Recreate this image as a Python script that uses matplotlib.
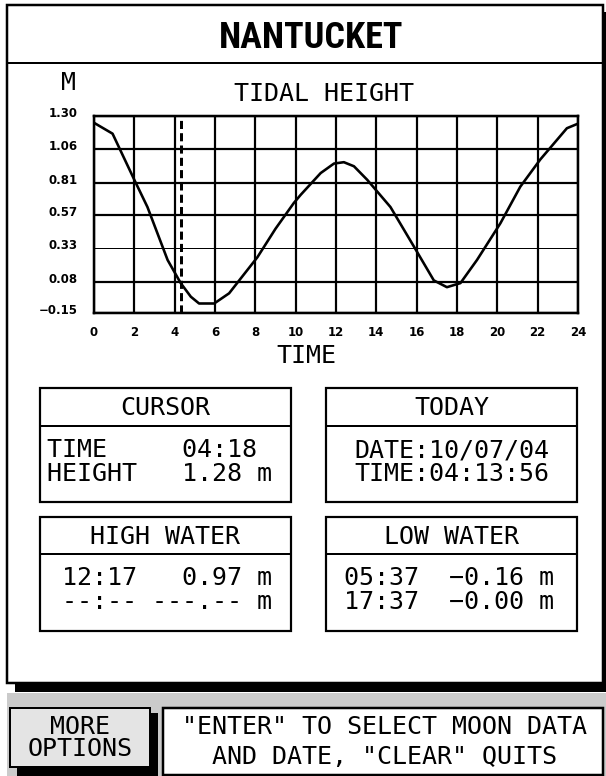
import matplotlib
matplotlib.use("Agg")
import matplotlib.pyplot as plt
from matplotlib.patches import Rectangle
from matplotlib.transforms import ScaledTranslation

# tide curve for the day (hours, metres)
hours = [0, 0.92, 2.0, 2.65, 3.65, 4.3, 4.8, 5.21, 5.6, 5.96, 6.7, 7.28, 8.1,
         9.0, 9.91, 10.25, 11.24, 11.9, 12.39, 12.89, 13.55, 14.7, 15.86,
         16.85, 17.5, 18.17, 18.99, 20.15, 21.14, 22.13, 23.45, 23.94]
heights = [1.25, 1.17, 0.83, 0.63, 0.24, 0.07, -0.03, -0.08, -0.08, -0.08,
           -0.005, 0.105, 0.26, 0.47, 0.66, 0.72, 0.88, 0.95, 0.96, 0.93,
           0.83, 0.63, 0.34, 0.09, 0.04, 0.07, 0.24, 0.51, 0.78, 0.98, 1.21,
           1.24]
y_ticks = [-0.15, 0.08, 0.33, 0.57, 0.81, 1.06, 1.30]
x_ticks = list(range(0, 25, 2))
cursor_hour = 4.3  # 04:18

station = "NANTUCKET"
cursor_rows = ["TIME     04:18", "HEIGHT   1.28 m"]
today_rows = ["DATE:10/07/04", "TIME:04:13:56"]
high_rows = ["12:17   0.97 m", "--:-- ---.-- m"]
low_rows = ["05:37  \u22120.16 m", "17:37  \u22120.00 m"]

W, H = 606, 776
PX = 0.72  # one pixel in points at dpi 100
MONO = "DejaVu Sans Mono"
NARROW = ["Roboto Condensed", "Archivo Narrow", "Liberation Sans Narrow",
          "DejaVu Sans"]
GRAY = "#cbcbcb"

fig = plt.figure(figsize=(W / 100, H / 100), dpi=100)
fig.patch.set_facecolor("white")

# screen layer in pixel coordinates, y pointing down
scr = fig.add_axes([0, 0, 1, 1])
scr.set_xlim(0, W)
scr.set_ylim(H, 0)
scr.axis("off")


def rect(x0, y0, x1, y1, fc="none", ec="none", lw=0, z=1):
    scr.add_patch(Rectangle((x0, y0), x1 - x0, y1 - y0, facecolor=fc,
                            edgecolor=ec, linewidth=lw * PX, zorder=z))


def txt(x, y, s, size=18, ha="center", **kw):
    scr.text(x, y, s, fontsize=size, family=MONO, ha=ha, va="center",
             color="black", **kw)


# main window with drop shadow
rect(7, 693, W, H, fc=GRAY)
rect(603, 12, W, 692, fc="black")
rect(15, 683, W, 692, fc="black")
rect(7, 5, 603, 683, fc="white", ec="black", lw=2.5, z=2)
scr.plot([7, 603], [63, 63], color="black", lw=2 * PX, zorder=3)
scr.text(311, 38, station, fontsize=26, fontweight="bold", family=NARROW,
         ha="center", va="center", zorder=3)

# plot labels
txt(68, 83, "M", zorder=3)
txt(324, 94, "TIDAL HEIGHT", zorder=3)
txt(306, 356, "TIME", zorder=3)


def info_box(x0, y0, x1, y1, head_y, title, rows, row_x=None):
    rect(x0, y0, x1, y1, fc="white", ec="black", lw=2.2, z=3)
    scr.plot([x0, x1], [head_y, head_y], color="black", lw=2 * PX, zorder=4)
    txt((x0 + x1) / 2, (y0 + head_y) / 2 + 1, title, zorder=4)
    ys = [head_y + 24, head_y + 48]
    for y, r in zip(ys, rows):
        if row_x is None:
            txt((x0 + x1) / 2, y, r, zorder=4)
        else:
            txt(row_x, y, r, ha="left", zorder=4)


info_box(40, 388, 291, 502, 426, "CURSOR", cursor_rows, row_x=47)
info_box(326, 388, 577, 502, 426, "TODAY", today_rows)
info_box(40, 517, 291, 631, 554, "HIGH WATER", high_rows, row_x=62)
info_box(326, 517, 577, 631, 554, "LOW WATER", low_rows, row_x=344)

# soft-key bar
rect(150, 713, 158, H, fc="black")
rect(17, 767, 158, H, fc="black")
rect(10, 708, 150, 767, fc="#e4e4e4", ec="black", lw=2, z=3)
txt(80, 727, "MORE", zorder=4)
txt(80, 749, "OPTIONS", zorder=4)
rect(163, 708, 603, 775, fc="white", ec="black", lw=2.5, z=3)
txt(385, 727, "\"ENTER\" TO SELECT MOON DATA", zorder=4)
txt(385, 757, "AND DATE, \"CLEAR\" QUITS", zorder=4)

# tidal height chart
left, right, top, bottom = 94, 578, 116, 313
ax = fig.add_axes([left / W, 1 - bottom / H, (right - left) / W,
                   (bottom - top) / H])
ax.set_facecolor("white")
ax.set_xlim(0, 24)
ax.set_ylim(y_ticks[0], y_ticks[-1])
ax.set_xticks(x_ticks)
ax.set_yticks(y_ticks)
ax.set_yticklabels([f"{v:.2f}".replace("-", "\u2212") for v in y_ticks])
ax.tick_params(length=0, labelsize=8.5)
ax.tick_params(axis="y", pad=12)
ax.tick_params(axis="x", pad=9)
for lab in ax.get_xticklabels() + ax.get_yticklabels():
    lab.set_fontweight("bold")
for lab in ax.get_yticklabels():
    lab.set_transform(lab.get_transform() +
                      ScaledTranslation(0, 4 / 100, fig.dpi_scale_trans))
ax.grid(True, color="black", linewidth=2.2 * PX)
ax.yaxis.get_gridlines()[2].set_linewidth(1 * PX)
for sp in ax.spines.values():
    sp.set_linewidth(2.5 * PX)

ax.plot(hours, heights, color="black", lw=2.6 * PX, zorder=4,
        solid_joinstyle="round")
ax.axvline(cursor_hour, color="black", lw=3 * PX, dashes=(2.7, 1.4),
           zorder=4)

fig.savefig("out.png", dpi=100, facecolor="white")
